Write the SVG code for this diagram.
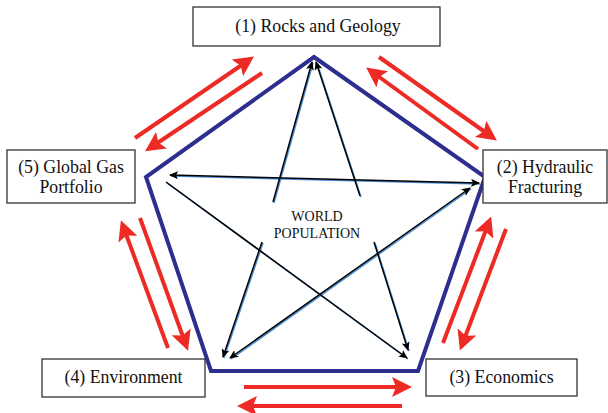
<svg xmlns="http://www.w3.org/2000/svg" width="608" height="413" viewBox="0 0 608 413">
<style>
.box{fill:#fff;stroke:#333;stroke-width:1.3}
.lbl{font-size:17.8px;fill:#111;text-anchor:middle}
.ctr{font-size:14px;fill:#111;text-anchor:middle}
.red{stroke:#ee2a24;stroke-width:4;fill:none;marker-end:url(#rh)}
.blk{stroke:#000;stroke-width:1.5;fill:none;marker-end:url(#bh)}
.shd{stroke:#4a8fd8;stroke-width:1.5;fill:none}
.dbl{marker-start:url(#bhs)}
</style>
<defs>
<marker id="rh" markerWidth="5" markerHeight="5" refX="3.5" refY="2.5" orient="auto" markerUnits="strokeWidth">
<path d="M0,0 L5,2.5 L0,5 L1,2.5 z" fill="#ee2a24"/>
</marker>
<marker id="bh" markerWidth="9" markerHeight="8" refX="8" refY="4" orient="auto" markerUnits="userSpaceOnUse">
<path d="M0,0 L9,4 L0,8 L2,4 z" fill="#000"/>
</marker>
<marker id="bhs" markerWidth="9" markerHeight="8" refX="1" refY="4" orient="auto" markerUnits="userSpaceOnUse">
<path d="M9,0 L0,4 L9,8 L7,4 z" fill="#000"/>
</marker>
</defs>
<g id="pentagon">
<polygon points="314,57 485,177 418,371 211,371 146,177" fill="none" stroke="#2e2e8f" stroke-width="4" stroke-linejoin="miter"/>
</g>
<g id="connectors">
<line class="red" x1="135" y1="138" x2="249" y2="60"/>
<line class="red" x1="262" y1="73" x2="150" y2="148"/>
<line class="red" x1="379" y1="57" x2="492" y2="137"/>
<line class="red" x1="478" y1="149" x2="371" y2="71"/>
<line class="red" x1="506" y1="229" x2="462" y2="345"/>
<line class="red" x1="443" y1="343" x2="489" y2="222"/>
<line class="red" x1="244" y1="387" x2="406" y2="387"/>
<line class="red" x1="402" y1="406" x2="243" y2="406"/>
<line class="red" x1="168" y1="348" x2="123" y2="226"/>
<line class="red" x1="140" y1="218" x2="186" y2="345"/>
<g transform="translate(1,1)">
<line class="shd" x1="273" y1="202" x2="312" y2="62"/>
<line class="shd" x1="360" y1="196" x2="316" y2="62"/>
<line class="shd" x1="262" y1="242" x2="223" y2="357"/>
<line class="shd" x1="374" y1="242" x2="408" y2="350"/>
<line class="shd" x1="170" y1="175" x2="479" y2="183"/>
<line class="shd" x1="166" y1="182" x2="407" y2="358"/>
<line class="shd" x1="470" y1="188" x2="230" y2="358"/>
</g>
<line class="blk" x1="273" y1="202" x2="312" y2="62"/>
<line class="blk" x1="360" y1="196" x2="316" y2="62"/>
<line class="blk" x1="262" y1="242" x2="223" y2="357"/>
<line class="blk" x1="374" y1="242" x2="408" y2="350"/>
<line class="blk dbl" x1="170" y1="175" x2="479" y2="183"/>
<line class="blk" x1="166" y1="182" x2="407" y2="358"/>
<line class="blk dbl" x1="470" y1="188" x2="230" y2="358"/>
</g>
<g id="center" font-family="'Liberation Serif', 'DejaVu Serif', serif">
<text class="ctr" x="317" y="221">WORLD</text>
<text class="ctr" x="317" y="238">POPULATION</text>
</g>
<g id="n1" font-family="'Liberation Serif', 'DejaVu Serif', serif">
<rect class="box" x="193" y="7" width="247" height="39"/>
<text class="lbl" x="318" y="32">(1) Rocks and Geology</text>
</g>
<g id="n2" font-family="'Liberation Serif', 'DejaVu Serif', serif">
<rect class="box" x="483" y="150" width="124" height="53"/>
<text class="lbl" x="545" y="173">(2) Hydraulic</text>
<text class="lbl" x="545" y="193">Fracturing</text>
</g>
<g id="n3" font-family="'Liberation Serif', 'DejaVu Serif', serif">
<rect class="box" x="426" y="359" width="151" height="37"/>
<text class="lbl" x="501.5" y="383">(3) Economics</text>
</g>
<g id="n4" font-family="'Liberation Serif', 'DejaVu Serif', serif">
<rect class="box" x="42" y="359" width="163" height="38"/>
<text class="lbl" x="123.5" y="383">(4) Environment</text>
</g>
<g id="n5" font-family="'Liberation Serif', 'DejaVu Serif', serif">
<rect class="box" x="7" y="150" width="128" height="53"/>
<text class="lbl" x="71" y="173">(5) Global Gas</text>
<text class="lbl" x="71" y="193">Portfolio</text>
</g>
</svg>
